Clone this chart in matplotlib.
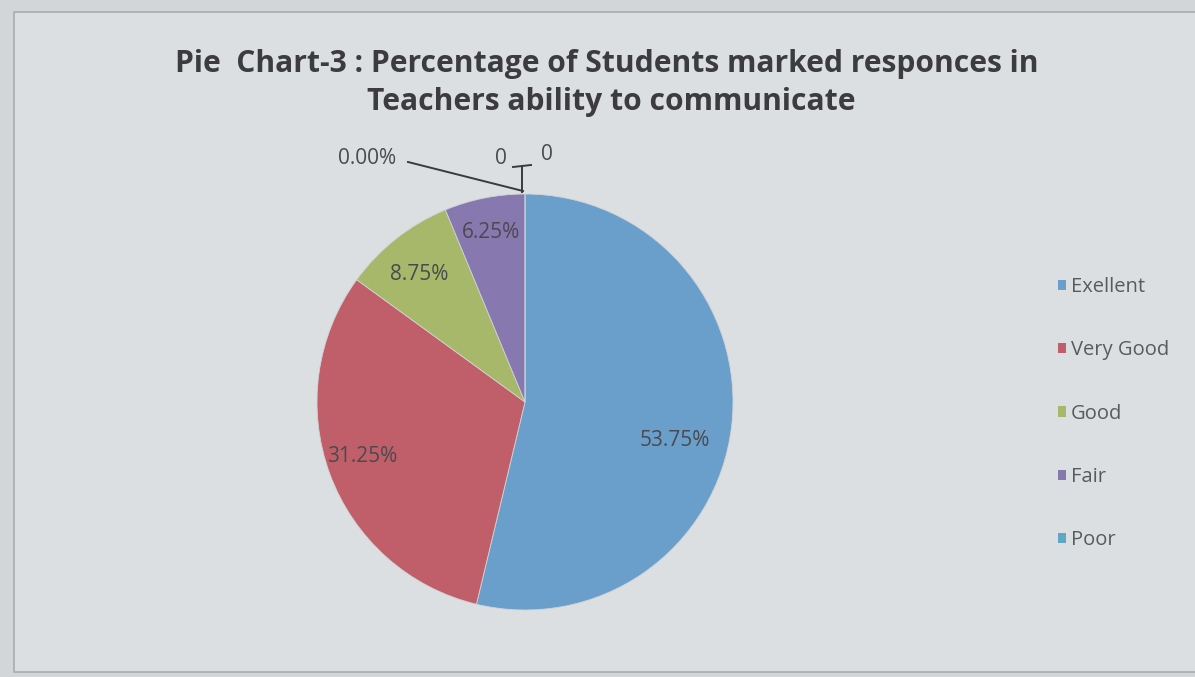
import matplotlib
matplotlib.use("Agg")
import matplotlib.pyplot as plt
from matplotlib.patches import Rectangle
from matplotlib.lines import Line2D

categories = ["Exellent", "Very Good", "Good", "Fair", "Poor"]
values = [53.75, 31.25, 8.75, 6.25, 0.0]
value_labels = ["53.75%", "31.25%", "8.75%", "6.25%", "0.00%"]
extra_labels = ["0", "0"]
colors = ["#6a9fcc", "#c05f69", "#a7b86a", "#8778b0", "#5ea8c4"]

W, H = 1195, 677
fig = plt.figure(figsize=(W / 100, H / 100), dpi=100)
fig.patch.set_facecolor("#d3d6d8")

# inner chart area frame
bg = fig.add_axes([0, 0, 1, 1], zorder=-5)
bg.set_xlim(0, W)
bg.set_ylim(H, 0)
bg.axis("off")
bg.add_patch(Rectangle((14, 12), W, 660, facecolor="#dcdfe1", edgecolor="#a9acae", lw=1.2))

fig.text(607 / W, 1 - 64 / H, "Pie  Chart-3 : Percentage of Students marked responces in",
         ha="center", va="center", fontsize=21.6, fontweight="bold", family="Open Sans", color="#3c3c3e")
fig.text(611 / W, 1 - 102 / H, "Teachers ability to communicate",
         ha="center", va="center", fontsize=21.6, fontweight="bold", family="Open Sans", color="#3c3c3e")

cx, cy, r = 525, 402, 208
ax = fig.add_axes([(cx - r) / W, (H - cy - r) / H, 2 * r / W, 2 * r / H])

wedges, _ = ax.pie(values, colors=colors, startangle=90, counterclock=False, radius=1,
                   wedgeprops=dict(edgecolor="#d0d3d6", linewidth=0.6))
ax.set_xlim(-1, 1)
ax.set_ylim(-1, 1)
ax.set_aspect("equal")
ax.axis("off")

def px(x, y):
    return ((x - cx) / r, (cy - y) / r)

fs = 15
lab_pos = [(675, 441), (362, 457), (419, 274), (491, 232), (367, 158)]
for (x, y), t in zip(lab_pos, value_labels):
    ax.text(*px(x, y), t, ha="center", va="center", fontsize=fs, family="Open Sans",
            color="#4a4a4e", clip_on=False)

ax.text(*px(501, 158), extra_labels[0], ha="center", va="center", fontsize=fs,
        family="Open Sans", color="#4a4a4e", clip_on=False)
ax.text(*px(547, 155), extra_labels[1], ha="center", va="center", fontsize=fs,
        family="Open Sans", color="#4a4a4e", clip_on=False)

lc = "#3a3a3c"
for xs, ys in [([408, 523], [162, 191]), ([522, 522], [166, 192]), ([513, 531], [167, 165])]:
    p = [px(x, y) for x, y in zip(xs, ys)]
    ax.add_line(Line2D([p[0][0], p[1][0]], [p[0][1], p[1][1]], color=lc, lw=1.4, clip_on=False))

handles = [Rectangle((0, 0), 1, 1, facecolor=c) for c in colors]
leg = fig.legend(handles, categories, loc="upper left", bbox_to_anchor=(1040 / W, 1 - 259 / H),
                 frameon=False, labelspacing=2.15, handlelength=0.4, handleheight=0.4,
                 handletextpad=0.25, prop={"family": "Open Sans", "size": 14.5})
for t in leg.get_texts():
    t.set_color("#5a5a5e")

fig.savefig("out.png", dpi=100, facecolor=fig.get_facecolor())
